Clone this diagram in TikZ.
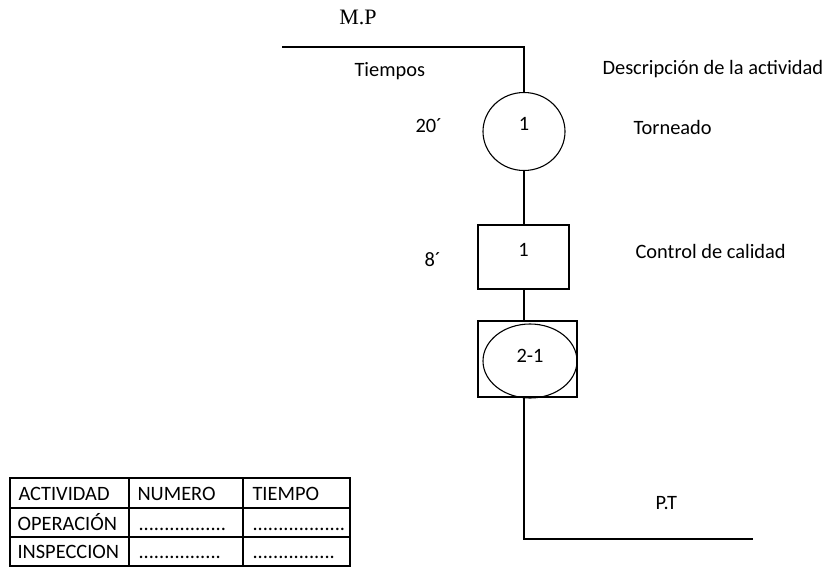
\documentclass[tikz,border=0pt]{standalone}
\usepackage{fontspec}
\setmainfont{Carlito}
\newfontfamily\timesfont{Liberation Serif}
\usetikzlibrary{shapes.geometric}

\begin{document}
\begin{tikzpicture}[x = 1pt, y = -1pt, line width = 1.1pt,
	font = \fontsize{20.4}{24}\selectfont,
	oper/.style = {draw, ellipse, minimum width = 82pt, minimum height = 78pt, inner sep = 0pt},
	insp/.style = {draw, rectangle, minimum width = 91pt, minimum height = 64pt, inner sep = 0pt},
	combbox/.style = {draw, rectangle, minimum width = 99pt, minimum height = 76pt, inner sep = 0pt},
	combop/.style = {draw, ellipse, minimum width = 94pt, minimum height = 74pt, inner sep = 0pt},
	txt/.style = {anchor = base west, inner sep = 0pt},
	every label/.style = {inner sep = 0pt}]
	\useasboundingbox (0, 0) rectangle (835, 567);

	% diagrama
	\node [anchor = base, inner sep = 0pt, font = \fontsize{22}{26}\timesfont] (mp) at (358, 25) {M.P};
	\coordinate (mpstart) at (282, 47);
	\node [oper, label = {[yshift = 8pt]center:1}] (torneado) at (524, 131.5) {};
	\node [insp, label = {[yshift = 7pt]center:1}] (control) at (523.5, 257) {};
	\node [combbox] (comb) at (527.5, 359) {};
	\node [combop, label = {[yshift = 5pt]center:2-1}] (combel) at (530, 361) {};
	\coordinate (ptend) at (753, 539);

	\draw (mpstart) -- (mpstart -| torneado) -- (torneado.north);
	\draw (torneado.south) -- (control.north -| torneado.south);
	\draw (control.south -| torneado.south) -- (comb.north -| torneado.south);
	\draw (comb.south -| torneado.south) |- (ptend);

	% textos
	\node [txt] (tiempos) at (354, 77) {Tiempos};
	\node [txt] (desc) at (602, 75) {Descripción de la actividad};
	\node [txt] (t1) at (415, 132) {20´};
	\node [txt] (d1) at (633, 135) {Torneado};
	\node [txt] (t2) at (424, 266) {8´};
	\node [txt] (d2) at (635, 258) {Control de calidad};
	\node [txt] (pt) at (655, 509) {P.T};

	% tabla
	\draw (10, 478) rectangle (350, 566);
	\foreach \y in {508, 537}
		\draw (10, \y) -- (350, \y);
	\foreach \x in {129, 243}
		\draw (\x, 478) -- (\x, 566);
	\node [txt] (act) at (18, 500) {ACTIVIDAD};
	\node [txt] (num) at (137, 500) {NUMERO};
	\node [txt] (tie) at (252, 500) {TIEMPO};
	\node [txt] (ope) at (17, 530) {OPERACIÓN};
	\node [txt] (ins) at (17, 558) {INSPECCION};
	\node [txt] (ope2) at (138, 530) {.................};
	\node [txt] (ope3) at (252, 530) {..................};
	\node [txt] (ins2) at (138, 558) {................};
	\node [txt] (ins3) at (252, 558) {................};
\end{tikzpicture}
\end{document}
